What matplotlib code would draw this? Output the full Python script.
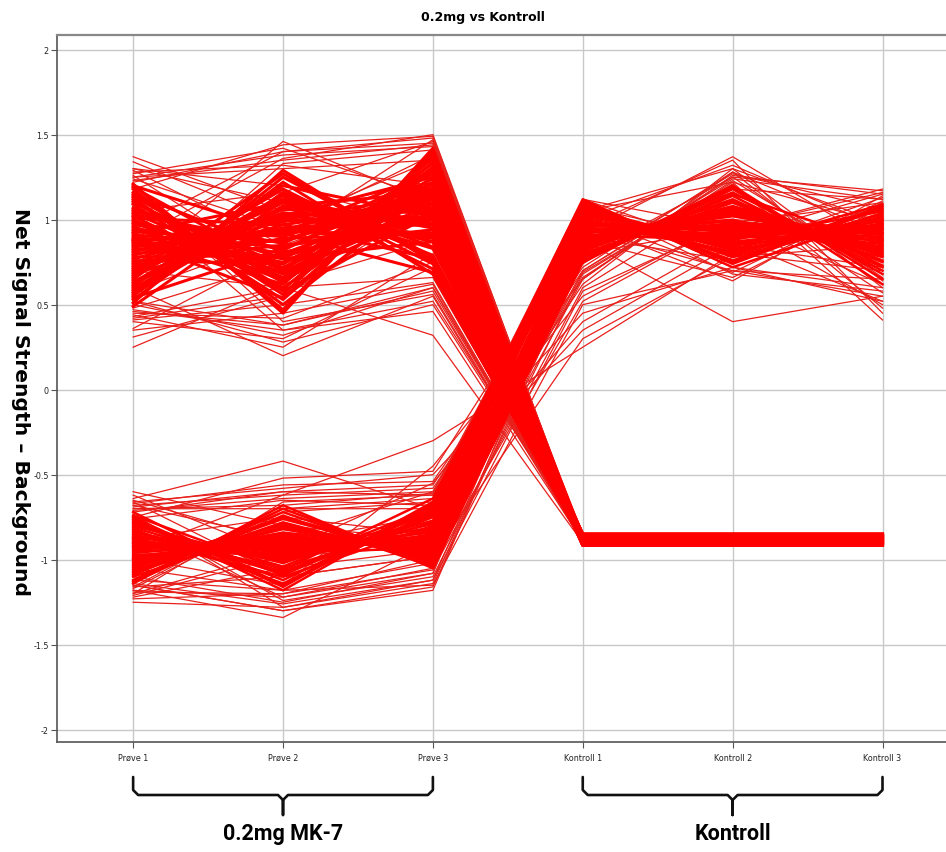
import matplotlib
matplotlib.use("Agg")
import matplotlib.pyplot as plt
import numpy as np

# ---------------- data ----------------
categories = ["Prøve 1", "Prøve 2", "Prøve 3", "Kontroll 1", "Kontroll 2", "Kontroll 3"]
y_ticks = [-2, -1.5, -1, -0.5, 0, 0.5, 1, 1.5, 2]
y_tick_labels = ["-2", "-1.5", "-1", "-0.5", "0", "0.5", "1", "1.5", "2"]

# group A (core of the dense band): high in Prøve, low and flat in Kontroll
p1_hi = [0.85, 0.62, 1.10, 0.74, 0.98, 0.55, 1.18, 0.80, 0.69, 1.04, 0.91, 0.58, 1.14, 0.77, 0.66, 1.00, 0.88, 0.51, 1.21, 0.72,
         0.95, 0.63, 1.07, 0.83, 0.70, 1.12, 0.60, 0.93, 0.79, 1.02, 0.53, 0.87, 1.16, 0.67, 0.97, 0.75, 1.09, 0.57, 0.90, 0.82,
         1.05, 0.64, 0.99, 0.71, 1.19, 0.59, 0.86, 0.78, 1.13, 0.68, 0.94, 0.49, 1.03, 0.81, 0.73, 1.11, 0.61, 0.96, 0.84, 1.06,
         0.65, 0.89, 1.15, 0.56, 1.01, 0.76, 0.92, 1.20, 0.54, 0.88]
p2_hi = [0.92, 1.07, 0.70, 1.04, 0.69, 1.25, 0.47, 0.88, 1.10, 0.66, 0.84, 1.08, 0.63, 0.99, 1.18, 0.64, 0.93, 1.29, 0.45, 0.97,
         0.80, 1.15, 0.74, 0.78, 1.03, 0.56, 1.02, 0.87, 1.01, 0.60, 1.16, 0.75, 0.59, 1.12, 0.90, 0.85, 0.53, 1.22, 0.77, 0.95,
         0.82, 0.95, 0.68, 1.06, 0.71, 1.14, 1.00, 0.79, 0.50, 0.94, 0.72, 1.11, 0.86, 1.02, 0.89, 0.58, 1.20, 0.65, 0.92, 0.77,
         1.27, 0.62, 0.81, 1.08, 0.97, 0.74, 1.10, 0.92, 0.83, 0.54]
p3_hi = [1.09, 0.87, 1.28, 0.97, 1.15, 0.78, 1.40, 1.14, 0.83, 1.31, 1.02, 1.00, 1.25, 1.06, 0.74, 1.36, 0.91, 0.75, 1.42, 1.10,
         1.12, 0.79, 1.21, 1.06, 0.90, 1.38, 1.07, 1.16, 0.89, 1.19, 0.84, 1.13, 1.34, 0.95, 1.18, 0.94, 1.30, 0.68, 1.22, 0.97,
         1.24, 1.02, 1.07, 1.04, 1.33, 0.71, 1.15, 1.00, 1.19, 1.16, 1.09, 0.87, 1.27, 1.25, 0.92, 1.03, 1.02, 1.05, 1.28, 0.87,
         0.76, 1.37, 0.94, 1.16, 0.77, 1.18, 0.98, 0.69, 1.19, 1.30]
k_hi = [-0.850, -0.860, -0.870, -0.880, -0.890, -0.900, -0.910, -0.855, -0.865, -0.875,
        -0.885, -0.895, -0.905, -0.915, -0.850, -0.860, -0.870, -0.880, -0.890, -0.900,
        -0.910, -0.855, -0.865, -0.875, -0.885, -0.895, -0.905, -0.915, -0.850, -0.860,
        -0.870, -0.880, -0.890, -0.900, -0.910, -0.855, -0.865, -0.875, -0.885, -0.895,
        -0.905, -0.915, -0.850, -0.860, -0.870, -0.880, -0.890, -0.900, -0.910, -0.855,
        -0.865, -0.875, -0.885, -0.895, -0.905, -0.915, -0.850, -0.860, -0.870, -0.880,
        -0.890, -0.900, -0.910, -0.855, -0.865, -0.875, -0.885, -0.895, -0.905, -0.915]

# group A single lines around and outside the core
p1_hi_out = [1.37, 1.34, 1.30, 1.27, 0.25, 0.31, 0.36, 0.40, 0.44, 0.60, 0.72, 0.95, 0.88, 1.10, 0.70, 1.05, 0.52, 1.25, 0.58, 0.35,
             1.24, 1.28, 0.46, 0.42, 1.22, 0.47, 1.26, 0.45, 1.23, 0.50, 1.30, 0.43, 0.55, 1.20, 0.48, 1.25, 0.52, 1.18, 0.41, 1.29]
p2_hi_out = [1.05, 0.98, 1.20, 1.42, 0.62, 0.55, 0.82, 0.30, 0.25, 0.20, 1.46, 1.40, 1.36, 0.35, 0.60, 1.16, 0.38, 1.38, 0.90, 0.45,
             0.95, 1.32, 0.38, 0.55, 1.40, 0.35, 0.70, 0.42, 1.35, 0.32, 1.10, 0.60, 1.33, 0.40, 0.75, 1.30, 0.28, 1.44, 0.50, 0.85]
p3_hi_out = [1.22, 1.35, 0.96, 1.12, 0.88, 1.05, 1.30, 0.72, 0.80, 0.55, 1.10, 1.48, 1.50, 0.46, 0.32, 1.46, 0.60, 1.43, 1.47, 0.62,
             1.38, 1.20, 0.58, 1.10, 1.45, 0.52, 1.25, 0.75, 1.44, 0.60, 0.90, 0.66, 1.41, 0.56, 1.00, 1.35, 0.50, 1.49, 0.63, 1.15]
k_hi_out = [-0.86, -0.87, -0.88, -0.89, -0.90, -0.86, -0.87, -0.88, -0.89, -0.90,
            -0.86, -0.87, -0.88, -0.89, -0.90, -0.86, -0.87, -0.88, -0.89, -0.90,
            -0.86, -0.87, -0.88, -0.89, -0.90, -0.86, -0.87, -0.88, -0.89, -0.90,
            -0.86, -0.87, -0.88, -0.89, -0.90, -0.86, -0.87, -0.88, -0.89, -0.90]

# group B (core): low in Prøve, high in Kontroll
p1_lo = [-0.92, -0.85, -1.02, -0.78, -1.10, -0.95, -0.88, -1.05, -0.72, -0.98, -0.83, -1.12, -0.90, -1.00, -0.76,
         -0.94, -1.08, -0.80, -0.97, -0.87, -1.14, -0.91, -0.74, -1.03, -0.86, -0.99, -0.82, -1.07, -0.93, -0.79,
         -1.01, -0.89, -1.09, -0.75, -0.96, -0.84, -1.04, -0.90, -0.77, -1.06, -0.92, -0.81, -1.00, -0.87, -1.13]
p2_lo = [-0.98, -1.05, -0.86, -1.12, -0.80, -0.92, -1.00, -0.75, -1.15, -0.88, -1.08, -0.70, -0.95, -0.84, -1.18,
         -0.90, -0.78, -1.02, -0.96, -1.10, -0.68, -0.93, -1.06, -0.82, -0.99, -0.87, -1.14, -0.76, -0.91, -1.04,
         -0.85, -0.97, -0.72, -1.16, -0.89, -1.01, -0.81, -0.94, -1.09, -0.79, -0.92, -1.07, -0.86, -0.96, -0.74]
p3_lo = [-0.85, -0.78, -0.95, -0.70, -1.00, -0.88, -0.82, -0.98, -0.66, -0.92, -0.75, -1.03, -0.86, -0.94, -0.68,
         -0.90, -1.01, -0.73, -0.93, -0.80, -1.05, -0.84, -0.64, -0.97, -0.79, -0.91, -0.72, -0.99, -0.87, -0.69,
         -0.96, -0.83, -1.02, -0.67, -0.89, -0.77, -0.95, -0.86, -0.71, -0.99, -0.88, -0.74, -0.93, -0.81, -1.04]
k1_lo = [0.95, 1.02, 0.88, 1.08, 0.82, 0.98, 0.91, 0.78, 1.10, 0.93, 1.05, 0.75, 0.97, 0.86, 1.12,
         0.89, 0.80, 1.04, 0.94, 1.00, 0.77, 0.96, 1.07, 0.84, 0.99, 0.90, 1.09, 0.79, 0.92, 1.06,
         0.87, 0.95, 0.81, 1.11, 0.93, 1.03, 0.85, 0.97, 1.08, 0.83, 0.98, 1.01, 0.89, 0.94, 0.76]
k2_lo = [0.90, 0.85, 1.05, 0.78, 1.12, 0.96, 0.88, 1.15, 0.75, 1.00, 0.82, 1.18, 0.93, 1.08, 0.72,
         0.98, 1.10, 0.86, 0.92, 0.80, 1.20, 0.95, 0.84, 1.06, 0.90, 1.02, 0.76, 1.14, 0.97, 0.83,
         1.04, 0.91, 1.16, 0.74, 0.99, 0.87, 1.07, 0.94, 0.79, 1.11, 0.95, 0.81, 1.03, 0.89, 1.19]
k3_lo = [0.88, 0.95, 0.80, 1.00, 0.72, 0.92, 1.05, 0.85, 1.08, 0.78, 0.98, 0.68, 0.90, 0.83, 1.02,
         0.95, 0.75, 0.97, 0.86, 1.06, 0.65, 0.93, 1.09, 0.81, 0.99, 0.87, 1.04, 0.70, 0.91, 1.01,
         0.79, 0.94, 0.73, 1.07, 0.89, 0.96, 0.82, 0.92, 1.03, 0.76, 0.88, 1.00, 0.84, 0.97, 0.62]

# group B single lines around and outside the core
p1_lo_out = [-0.60, -0.64, -0.70, -1.23, -1.18, -1.25, -0.66, -0.95, -1.15, -0.82, -0.72, -1.20, -0.99, -0.68, -1.10, -0.76, -1.05, -0.88, -0.62, -1.16,
             -0.68, -1.18, -0.66, -1.20, -0.74, -1.16, -0.69, -1.14, -0.71, -1.19, -0.65, -1.21, -0.73, -1.17, -0.67, -1.12, -0.70, -1.22, -0.75, -1.15]
p2_lo_out = [-0.80, -0.42, -0.70, -1.20, -1.34, -1.28, -0.58, -0.62, -1.30, -1.22, -0.60, -0.95, -1.15, -0.88, -1.25, -0.65, -1.18, -0.75, -0.98, -1.10,
             -0.62, -1.22, -1.10, -0.66, -1.24, -0.70, -0.60, -1.26, -0.64, -1.20, -0.90, -0.98, -1.28, -0.72, -0.56, -1.18, -0.68, -1.05, -0.52, -1.30]
p3_lo_out = [-0.88, -0.70, -0.70, -1.00, -0.90, -1.12, -0.50, -0.30, -1.18, -1.05, -0.62, -0.55, -0.45, -0.60, -1.08, -0.68, -1.15, -0.85, -0.92, -0.98,
             -0.58, -1.08, -0.98, -0.62, -1.10, -0.64, -0.56, -1.12, -0.60, -1.06, -0.74, -0.86, -1.14, -0.66, -0.54, -1.02, -0.61, -0.94, -0.48, -1.16]
k1_lo_out = [0.85, 0.62, 1.12, 0.92, 0.70, 0.58, 0.45, 0.25, 0.88, 1.05, 0.40, 0.55, 0.65, 0.35, 1.00, 0.75, 0.50, 0.95, 1.08, 0.30,
             0.70, 1.10, 0.65, 0.95, 0.68, 1.12, 0.72, 0.88, 1.05, 0.60, 0.98, 0.66, 0.80, 1.11, 0.74, 0.52, 1.02, 0.69, 0.90, 0.78]
k2_lo_out = [1.00, 1.30, 0.95, 1.37, 1.25, 0.98, 0.72, 0.80, 0.40, 1.22, 0.90, 1.00, 1.28, 0.85, 1.32, 1.18, 0.70, 1.35, 0.88, 0.78,
             1.24, 0.68, 1.26, 0.70, 1.22, 0.82, 1.28, 0.66, 1.30, 1.15, 0.64, 1.23, 0.95, 0.72, 1.27, 1.00, 0.69, 1.21, 0.76, 1.25]
k3_lo_out = [0.95, 0.98, 1.18, 0.85, 1.17, 1.10, 0.60, 0.70, 0.55, 0.41, 1.15, 0.50, 0.92, 0.72, 0.95, 1.12, 0.65, 0.45, 0.52, 0.85,
             1.12, 0.58, 1.15, 0.55, 0.98, 1.13, 0.60, 1.10, 0.64, 0.57, 1.14, 0.70, 1.16, 0.52, 1.06, 0.62, 1.11, 0.48, 1.09, 0.66]

group_labels = ["0.2mg MK-7", "Kontroll"]
group_spans = [(0, 2), (3, 5)]
title = "0.2mg vs Kontroll"
ylabel = "Net Signal Strength \u2013 Background"

# ---------------- figure ----------------
W, H = 946, 853
fig = plt.figure(figsize=(W / 100, H / 100), dpi=100)
ax = fig.add_axes([57 / W, 1 - 743 / H, (W - 57) / W + 0.001, (743 - 36) / H])

xs = np.arange(len(categories))
RED = "#ff0000"
THIN = "#e8201c"
for a, b, c, k in zip(p1_hi_out, p2_hi_out, p3_hi_out, k_hi_out):
    ax.plot(xs, [a, b, c, k, k, k], color=THIN, lw=0.9, zorder=3)
for row in zip(p1_lo_out, p2_lo_out, p3_lo_out, k1_lo_out, k2_lo_out, k3_lo_out):
    ax.plot(xs, row, color=THIN, lw=0.9, zorder=3)
for a, b, c, k in zip(p1_hi, p2_hi, p3_hi, k_hi):
    ax.plot(xs, [a, b, c, k, k, k], color=RED, lw=2.2, zorder=3)
for row in zip(p1_lo, p2_lo, p3_lo, k1_lo, k2_lo, k3_lo):
    ax.plot(xs, row, color=RED, lw=1.8, zorder=3)

ax.set_xlim(-0.508, 5.43)
ax.set_ylim(-2.072, 2.086)
ax.set_xticks(xs)
ax.set_xticklabels(categories)
ax.set_yticks(y_ticks)
ax.set_yticklabels(y_tick_labels)
ax.grid(True, color="#c8c8c8", lw=1.0, zorder=0)
ax.set_axisbelow(True)

for lab in ax.get_xticklabels() + ax.get_yticklabels():
    lab.set_family("DejaVu Sans")
    lab.set_fontsize(5.8)
    lab.set_color("#222222")
ax.tick_params(axis="both", length=4, width=0.8, color="#555555", pad=2)
ax.tick_params(axis="x", pad=4)

ax.spines["right"].set_visible(False)
ax.spines["left"].set_color("#555555")
ax.spines["bottom"].set_color("#555555")
ax.spines["top"].set_color("#888888")
ax.spines["left"].set_linewidth(1.2)
ax.spines["bottom"].set_linewidth(1.2)
ax.spines["top"].set_linewidth(1.6)

fig.text(483 / W, 1 - 17 / H, title, ha="center", va="center",
         fontsize=9, fontweight="bold", family="DejaVu Sans")
fig.text(20 / W, 1 - 402 / H, ylabel, ha="center", va="center", rotation=270,
         fontsize=14.6, fontweight="bold", family="DejaVu Sans")

# ---------------- braces ----------------
ov = fig.add_axes([0, 0, 1, 1], facecolor="none")
ov.set_xlim(0, W)
ov.set_ylim(0, H)
ov.axis("off")

y_top, y_bar, y_tip = H - 778, H - 796, H - 816
for (i0, i1), label in zip(group_spans, group_labels):
    x0 = ax.transData.transform((i0, 0))[0]
    x1 = ax.transData.transform((i1, 0))[0]
    xm = (x0 + x1) / 2
    r = 5
    bx = [x0, x0, x0 + r, xm - r, xm, xm, xm, xm + r, x1 - r, x1, x1]
    by = [y_top, y_bar + r, y_bar, y_bar, y_bar - r, y_tip, y_bar - r, y_bar, y_bar, y_bar + r, y_top]
    ov.plot(bx, by, color="#111111", lw=1.9, solid_joinstyle="round", solid_capstyle="round")
    ov.text(xm, H - 834, label, ha="center", va="center", fontsize=15.5, fontweight="bold",
            family=["Roboto", "DejaVu Sans"])

fig.savefig("out.png", dpi=100)
